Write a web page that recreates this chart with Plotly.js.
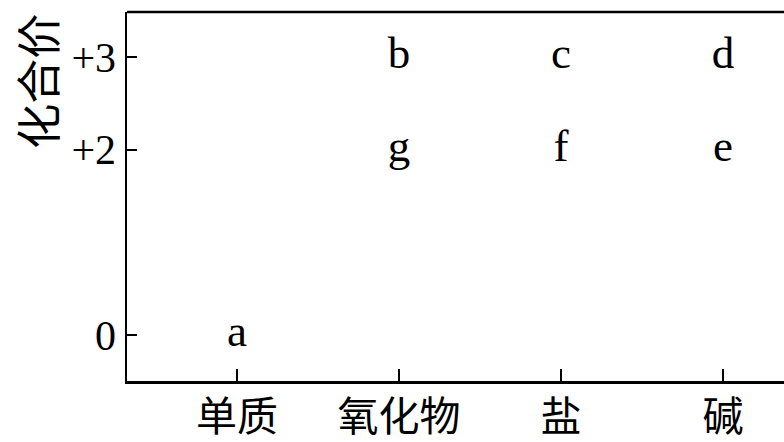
<!DOCTYPE html>
<html>
<head>
<meta charset="utf-8">
<script src="https://cdn.plot.ly/plotly-3.0.1.min.js"></script>
<style>
  html, body { margin: 0; padding: 0; background: #fff; }
  #chart { width: 784px; height: 442px; }
</style>
</head>
<body>
<div id="chart"></div>
<script>
// Categories on the x axis
const categories = ['单质', '氧化物', '盐', '碱'];
// Points: substance class, valence, letter label
const pointClass = ['单质', '氧化物', '氧化物', '盐', '盐', '碱', '碱'];
const pointValence = [0, 3, 2, 3, 2, 3, 2];
const pointLabels = ['a', 'b', 'g', 'c', 'f', 'd', 'e'];
// Y ticks
const yTickVals = [0, 2, 3];
const yTickText = ['0', '+2', '+3'];
const yTitle = '化合价';

const serif = '"Liberation Serif", "Times New Roman", serif';
const cjk = '"Noto Sans CJK SC", sans-serif';

const trace = {
  type: 'scatter',
  mode: 'text',
  x: pointClass,
  y: pointValence,
  text: pointLabels,
  textposition: 'middle center',
  textfont: { family: serif, size: 45, color: '#000' },
  cliponaxis: false,
  hoverinfo: 'skip',
  showlegend: false
};

const layout = {
  width: 784,
  height: 442,
  margin: { l: 127, r: 0, t: 12, b: 61, pad: 0 },
  paper_bgcolor: '#fff',
  plot_bgcolor: '#fff',
  showlegend: false,
  hovermode: false,
  xaxis: {
    type: 'category',
    categoryorder: 'array',
    categoryarray: categories,
    range: [-0.679, 3.377],
    showgrid: false,
    zeroline: false,
    showline: true,
    linecolor: '#000',
    linewidth: 2.5,
    ticks: 'inside',
    ticklen: 12,
    tickwidth: 2,
    tickcolor: '#000',
    ticklabelstandoff: -2,
    tickfont: { family: cjk, size: 41, color: '#000' },
    fixedrange: true
  },
  yaxis: {
    range: [-0.496, 3.486],
    tickmode: 'array',
    tickvals: yTickVals,
    ticktext: yTickText,
    showgrid: false,
    zeroline: false,
    showline: true,
    linecolor: '#000',
    linewidth: 2.5,
    ticks: 'inside',
    ticklen: 10,
    tickwidth: 2,
    tickcolor: '#000',
    tickfont: { family: serif, size: 42, color: '#000' },
    fixedrange: true
  },
  shapes: [{
    type: 'line', xref: 'paper', yref: 'paper',
    x0: 0, x1: 1, y0: 1, y1: 1,
    line: { color: '#000', width: 2.5 }
  }],
  annotations: [{
    text: yTitle,
    xref: 'paper', yref: 'paper',
    x: -0.138, y: 1.0,
    xanchor: 'center', yanchor: 'top',
    textangle: -90,
    showarrow: false,
    font: { family: cjk, size: 45, color: '#000' }
  }]
};

Plotly.newPlot('chart', [trace], layout, { displayModeBar: false, staticPlot: true });
</script>
</body>
</html>
